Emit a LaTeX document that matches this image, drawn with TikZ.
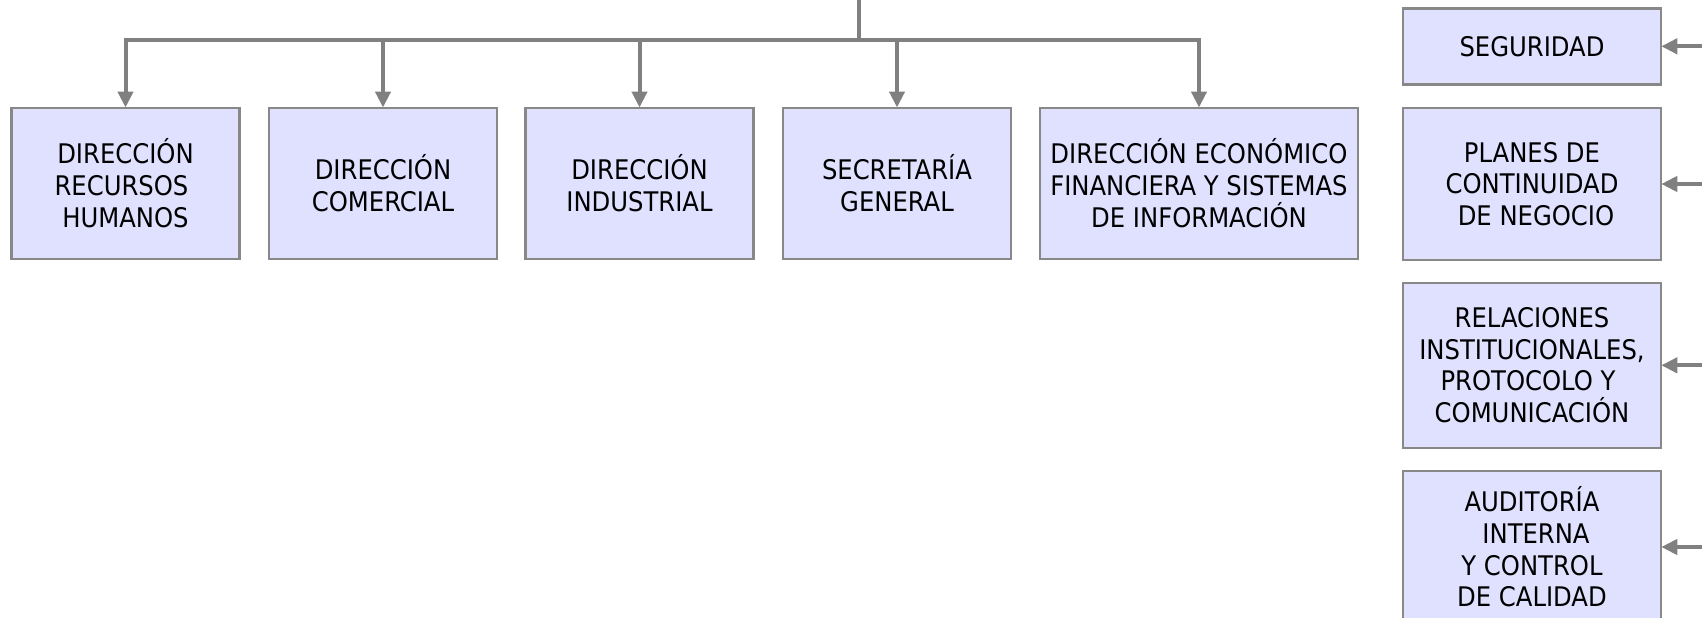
\documentclass[tikz,border=0pt]{standalone}
\usepackage{fontspec}
\setmainfont{DejaVu Sans Condensed}
\usetikzlibrary{arrows.meta}
\definecolor{boxfill}{RGB}{224,224,255}
\definecolor{boxline}{RGB}{136,136,136}
\definecolor{conline}{RGB}{128,128,128}
\newcommand\gapbox{\hbox to 8pt{}}
\tikzset{
  orgbox/.style={draw=boxline, line width=2.5pt, fill=boxfill, align=center,
    inner sep=0pt, font=\fontsize{27pt}{31.7pt}\selectfont, text=black},
  conn/.style={draw=conline, line width=4pt},
  arrconn/.style={conn, -{Triangle[length=16pt,width=15pt]}, shorten >=-1pt}
}
\begin{document}
\begin{tikzpicture}[x=1pt,y=-1pt]
\useasboundingbox (0,0) rectangle (1702,618);
\clip (0,0) rectangle (1702,618);
% bottom row boxes
\node[orgbox, minimum width=228pt, minimum height=151pt] (b1) at (125.5,183.3) {DIRECCIÓN\\RECURSOS\gapbox\\HUMANOS};
\node[orgbox, minimum width=228pt, minimum height=151pt] (b2) at (383,183.3) {DIRECCIÓN\\COMERCIAL};
\node[orgbox, minimum width=228pt, minimum height=151pt] (b3) at (639.5,183.3) {DIRECCIÓN\\INDUSTRIAL};
\node[orgbox, minimum width=228pt, minimum height=151pt] (b4) at (897,183.3) {SECRETARÍA\\GENERAL};
\node[orgbox, minimum width=318pt, minimum height=151pt] (b5) at (1199,183.3) {DIRECCIÓN ECONÓMICO\\FINANCIERA Y SISTEMAS\\DE INFORMACIÓN};
% right column boxes
\node[orgbox, minimum width=258pt, minimum height=76pt] (r1) at (1532,46.3) {SEGURIDAD};
\node[orgbox, minimum width=258pt, minimum height=152pt] (r2) at (1532,184) {PLANES DE\\CONTINUIDAD\\\gapbox DE NEGOCIO};
\node[orgbox, minimum width=258pt, minimum height=165pt] (r3) at (1532,365.3) {RELACIONES\\INSTITUCIONALES,\\PROTOCOLO Y\gapbox\\COMUNICACIÓN};
\node[orgbox, minimum width=258pt, minimum height=152pt] (r4) at (1532,547) {AUDITORÍA\\\gapbox INTERNA\\Y CONTROL\\DE CALIDAD};
% top connectors
\coordinate (top) at (858.6,0);
\coordinate (bar) at (858.6,40);
\draw[conn] (top) -- (bar);
\draw[conn, line cap=rect] (b1.north |- bar) -- (b5.north |- bar);
\foreach \b in {b1,b2,b3,b4,b5} {
  \draw[arrconn] (\b.north |- bar) -- (\b.north);
}
% right connectors
\foreach \r in {r1,r2,r3,r4} {
  \coordinate (\r src) at (1702,0 |- \r.east);
  \draw[arrconn] (\r src) -- (\r.east);
}
\end{tikzpicture}
\end{document}
